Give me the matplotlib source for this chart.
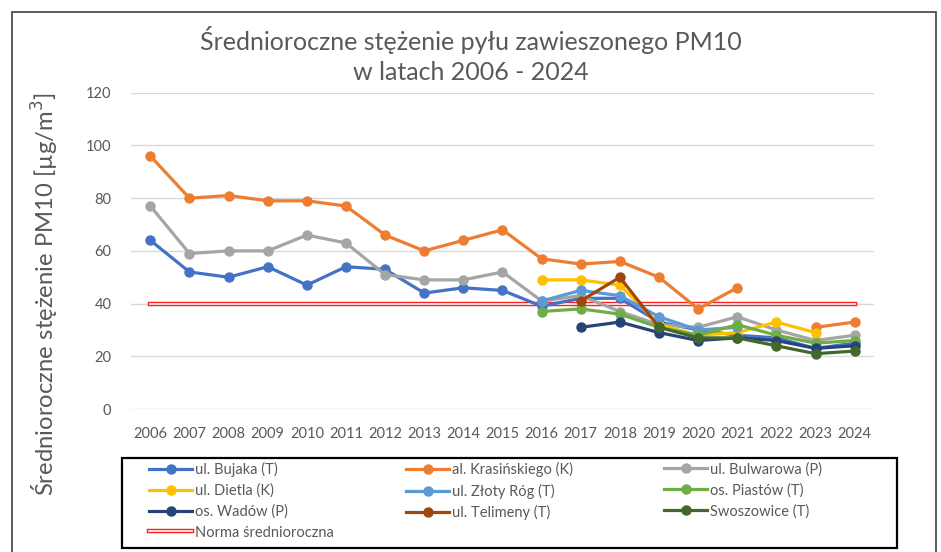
import numpy as np
import matplotlib
matplotlib.use("Agg")
import matplotlib.pyplot as plt
import matplotlib.patheffects as pe
from matplotlib.patches import Rectangle

plt.rcParams['font.family'] = ['Lato', 'DejaVu Sans']

years = [str(y) for y in range(2006, 2025)]
nan = np.nan

bujaka = [64, 52, 50, 54, 47, 54, 53, 44, 46, 45, 39, 42, 42, 33, 30, 28, 27, 23, 25]
krasinskiego = [96, 80, 81, 79, 79, 77, 66, 60, 64, 68, 57, 55, 56, 50, 38, 46, nan, 31, 33]
bulwarowa = [77, 59, 60, 60, 66, 63, 51, 49, 49, 52, 41, 43, 37, 32, 31, 35, 30, 26, 28]
dietla = [nan] * 10 + [49, 49, 47, 32, 28, 29, 33, 29, nan]
zloty_rog = [nan] * 10 + [41, 45, 43, 35, 30, 31, nan, nan, nan]
piastow = [nan] * 10 + [37, 38, 36, 31, 28, 32, 28, 25, 26]
wadow = [nan] * 11 + [31, 33, 29, 26, 27, 26, 23, 24]
telimeny = [nan] * 11 + [41, 50, 31, nan, nan, nan, nan, nan]
swoszowice = [nan] * 13 + [31, 27, 27, 24, 21, 22]
norma = 40

series = [
    ("ul. Bujaka (T)", bujaka, "#4472C4"),
    ("al. Krasińskiego (K)", krasinskiego, "#ED7D31"),
    ("ul. Bulwarowa (P)", bulwarowa, "#A5A5A5"),
    ("ul. Dietla (K)", dietla, "#FFC000"),
    ("ul. Złoty Róg (T)", zloty_rog, "#5B9BD5"),
    ("os. Piastów (T)", piastow, "#70AD47"),
    ("os. Wadów (P)", wadow, "#264478"),
    ("ul. Telimeny (T)", telimeny, "#9E480E"),
    ("Swoszowice (T)", swoszowice, "#43682B"),
]

fig = plt.figure(figsize=(9.41, 5.52), dpi=100)
ax = fig.add_axes([0.139, 0.259, 0.79, 0.573])

x = np.arange(len(years))
handles = []
for name, vals, col in series:
    h, = ax.plot(x, vals, color=col, lw=2.3, marker='o', markersize=6.5,
                 label=name, zorder=3)
    handles.append(h)

# hollow red "norma" line
hn, = ax.plot([x[0], x[-1]], [norma, norma], color='white', lw=1.2,
              label="Norma średnioroczna", zorder=2,
              path_effects=[pe.Stroke(linewidth=3.2, foreground='#FF2020'), pe.Normal()])
handles.append(hn)

ax.set_xlim(-0.5, len(years) - 0.5)
ax.set_ylim(0, 120)
ax.set_yticks(range(0, 121, 20))
ax.set_xticks(x)
ax.set_xticklabels(years)
ax.grid(axis='y', color='#D9D9D9', lw=1)
ax.set_axisbelow(True)
for s in ax.spines.values():
    s.set_visible(False)
ax.tick_params(length=0, labelsize=10.5, colors='#595959')
ax.tick_params(axis='x', pad=13)
ax.tick_params(axis='y', pad=14)

fig.text(0.5, 0.9, "Średnioroczne stężenie pyłu zawieszonego PM10\nw latach 2006 - 2024",
         ha='center', va='center', fontsize=18, color='#595959', linespacing=1.4)
fig.text(0.048, 0.468, "Średnioroczne stężenie PM10 [µg/m$^3$]", rotation=90,
         ha='center', va='center', fontsize=17.2, color='#595959')

# legend: three columns, filled row by row like the original
col_x = [150 / 941, 407 / 941, 665 / 941]
for c in range(3):
    idx = list(range(c, len(handles), 3))
    fig.legend([handles[i] for i in idx], [handles[i].get_label() for i in idx],
               loc='upper left', bbox_to_anchor=(col_x[c] - 0.006, 0.172),
               fontsize=10.5, frameon=False, handlelength=2.9, handletextpad=0.2,
               labelspacing=0.45, borderaxespad=0, borderpad=0.35,
               labelcolor='#595959')

fig.patches.append(Rectangle((122 / 941, 0.007), 775 / 941, 0.163, transform=fig.transFigure,
                             fill=False, edgecolor='black', lw=1.6))

# outer chart frame
fig.patches.append(Rectangle((0.013, -0.05), 0.982, 1.028, transform=fig.transFigure,
                             fill=False, edgecolor='#404040', lw=1.2))

fig.savefig("out.png", dpi=100)
